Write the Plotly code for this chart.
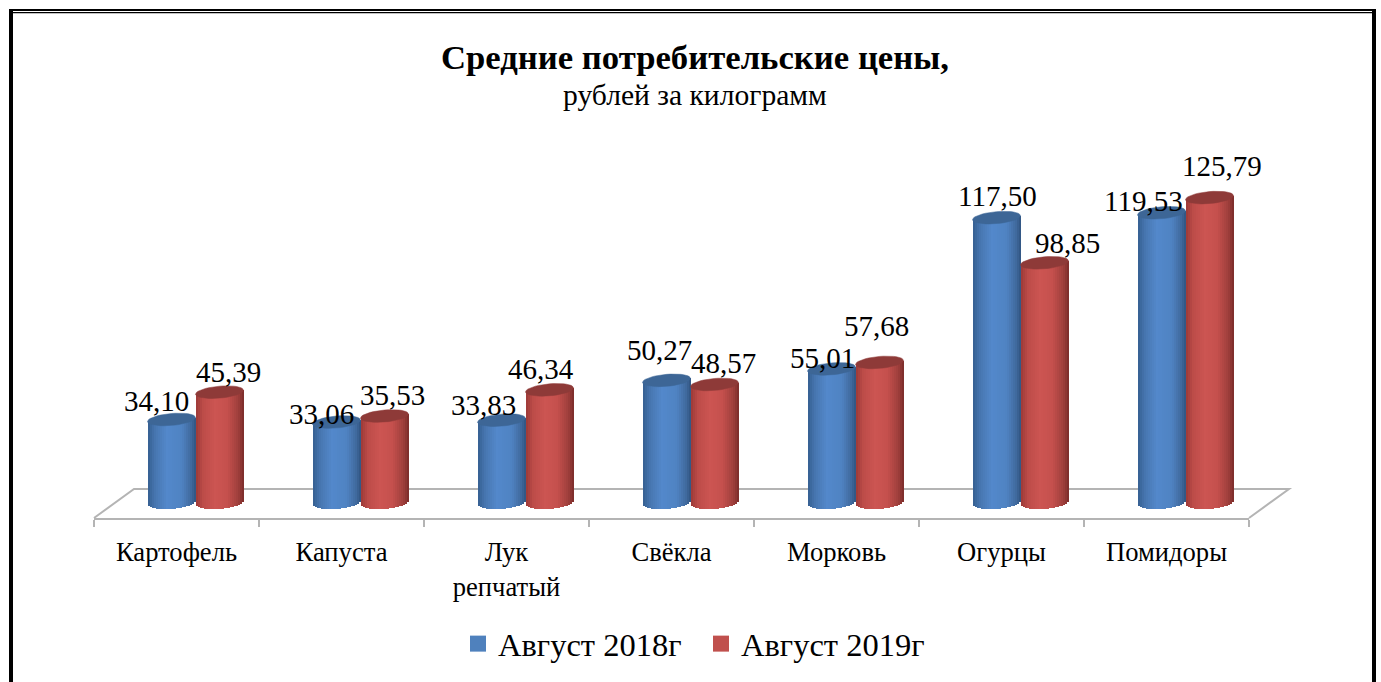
import math
import plotly.graph_objects as go

categories = ["Картофель", "Капуста", "Лук<br>репчатый", "Свёкла", "Морковь", "Огурцы", "Помидоры"]
series_2018 = [34.10, 33.06, 33.83, 50.27, 55.01, 117.50, 119.53]
series_2019 = [45.39, 35.53, 46.34, 48.57, 57.68, 98.85, 125.79]
series_names = ["Август 2018г", "Август 2019г"]

# label nudges in pixels, relative to each cylinder's top centre
nudge_x_2018 = [-15, -15, -18, -7, -9, 1, -18]
nudge_y_2018 = [-18.5, -8, -15, -30, -11, -22, -12]
nudge_x_2019 = [8.5, 7.5, -8.5, 8.5, -3.5, 22.5, 12.5]
nudge_y_2019 = [-20, -21, -21, -21.5, -36, -20, -31.6]

W, H = 1381, 682
AX_L, AX_R, AX_Y = 94, 1249, 518
CAT_PX = (AX_R - AX_L) / 7
Y0_PX = 502
PX_PER_UNIT = 2.42
FONT = "Liberation Serif"

px_x = lambda p: (p) / CAT_PX          # pixel length -> x units
px_y = lambda p: p / PX_PER_UNIT        # pixel length -> y units
pap_x = lambda p: (p - AX_L) / (AX_R - AX_L)
pap_y = lambda p: (AX_Y - p) / AX_Y

R = 24.0        # cylinder half width
B = 6.0         # top ellipse half height
B_BASE = 7.0    # bottom arc depth
TILT = 2.0      # ellipse tilt
N = 24
CENTERS = [-5.0, 43.0]

BLUE = [(-1, "#355f91"), (-.7, "#4776b0"), (-.2, "#5388cb"), (.4, "#4f83c2"), (.8, "#40699d"), (1, "#2f5480")]
RED = [(-1, "#9c3a37"), (-.7, "#bd4c49"), (-.2, "#cc5552"), (.3, "#c5504d"), (.75, "#a03f3c"), (1, "#7a2c2a")]
CAPS = ["#3d6696", "#8e3a38"]
SWATCH = ["#4f81bd", "#c0504d"]


def shade(stops, u):
    for (a, ca), (b, cb) in zip(stops, stops[1:]):
        if u <= b:
            t = (u - a) / (b - a)
            ch = [round(int(ca[i:i + 2], 16) * (1 - t) + int(cb[i:i + 2], 16) * t) for i in (1, 3, 5)]
            return "rgb(%d,%d,%d)" % tuple(ch)
    return stops[-1][1]


fig = go.Figure()
xs = list(range(len(categories)))
for s, (vals, stops) in enumerate(((series_2018, BLUE), (series_2019, RED))):
    strip = 2 * R / N
    for k in range(N):
        u = -1 + (k + 0.5) * 2 / N
        bottom = px_y(-B_BASE * math.sqrt(1 - u * u) + TILT * u)
        top = px_y(TILT * u)
        left = CENTERS[s] + u * R - strip / 2
        fig.add_trace(go.Bar(
            x=xs, y=[v + top - bottom for v in vals], base=[bottom] * len(vals),
            offset=px_x(left), width=px_x(strip + (0.8 if k < N - 1 else 0)),
            marker=dict(color=shade(stops, u), line=dict(width=0)),
            showlegend=False, hoverinfo="skip"))
    ex, ey = [], []
    for i, v in zip(xs, vals):
        for a in range(41):
            t = a / 40 * 2 * math.pi
            ex.append(i + px_x(CENTERS[s] + R * math.cos(t)))
            ey.append(v + px_y(B * math.sin(t) + TILT * math.cos(t)))
        ex.append(None)
        ey.append(None)
    fig.add_trace(go.Scatter(x=ex, y=ey, mode="lines", fill="toself", fillcolor=CAPS[s],
                             line=dict(width=0.5, color=CAPS[s]), showlegend=False,
                             hoverinfo="skip", cliponaxis=False))

for s in range(2):
    fig.add_trace(go.Scatter(x=[None], y=[None], mode="markers", name=series_names[s],
                             marker=dict(symbol="square", size=16, color=SWATCH[s])))

annotations = []
for s, (vals, nx, ny) in enumerate(((series_2018, nudge_x_2018, nudge_y_2018),
                                    (series_2019, nudge_x_2019, nudge_y_2019))):
    for i, v in zip(xs, vals):
        annotations.append(dict(
            x=i + px_x(CENTERS[s]), y=v, xref="x", yref="y",
            text=f"{v:.2f}".replace(".", ","), showarrow=False,
            xshift=nx[i], yshift=-ny[i], xanchor="center", yanchor="middle",
            font=dict(family=FONT, size=29, color="#000")))
annotations.append(dict(x=pap_x(695), y=pap_y(95), xref="paper", yref="paper",
                        text="рублей за килограмм", showarrow=False, xanchor="center",
                        yanchor="middle", font=dict(family=FONT, size=29.6, color="#000")))

GREY = "#b4b4b4"
floor_path = "M %f,%f L %f,%f L %f,%f L %f,%f" % (
    pap_x(AX_L), pap_y(AX_Y), pap_x(AX_L + 40), pap_y(AX_Y - 29),
    pap_x(AX_R + 40), pap_y(AX_Y - 29), pap_x(AX_R), pap_y(AX_Y))
shapes = [dict(type="path", path=floor_path, xref="paper", yref="paper",
               line=dict(color=GREY, width=2), layer="below")]
for x0, x1, y0, y1 in [(9, 13, 9, 682), (1372, 1376, 9, 682), (9, 1376, 9, 11), (9, 1376, 12, 13.3)]:
    shapes.append(dict(type="rect", xref="paper", yref="paper", x0=pap_x(x0), x1=pap_x(x1),
                       y0=pap_y(y0), y1=pap_y(y1), fillcolor="#000", line=dict(width=0), layer="above"))

fig.update_layout(
    width=W, height=H, autosize=False,
    margin=dict(l=AX_L, r=W - AX_R, t=0, b=H - AX_Y, pad=0, autoexpand=False),
    paper_bgcolor="#fff", plot_bgcolor="rgba(0,0,0,0)",
    barmode="overlay", bargap=0, hovermode=False,
    title=dict(text="<b>Средние потребительские цены,</b>", x=695 / W, xanchor="center",
               y=1 - 57 / H, yanchor="middle", xref="container", yref="container",
               font=dict(family=FONT, size=34.7, color="#000")),
    xaxis=dict(range=[-0.5, 6.5], tickmode="array", tickvals=xs, ticktext=categories,
               ticks="", showgrid=False, zeroline=False, showline=True, linecolor=GREY, linewidth=2,
               ticklabelstandoff=9,
               tickfont=dict(family=FONT, size=26.6, color="#000"),
               minor=dict(tickmode="array", tickvals=[i - 0.5 for i in range(8)], ticks="outside",
                          ticklen=7, tickwidth=2, tickcolor=GREY, showgrid=False)),
    yaxis=dict(range=[(Y0_PX - AX_Y) / PX_PER_UNIT, Y0_PX / PX_PER_UNIT], visible=False, fixedrange=True),
    legend=dict(orientation="h", x=pap_x(458), xanchor="left", y=pap_y(644), yanchor="middle",
                font=dict(family=FONT, size=32.5, color="#000"), bgcolor="rgba(0,0,0,0)",
                itemsizing="trace", itemwidth=30, traceorder="normal",
                entrywidth=198, entrywidthmode="pixels"),
    annotations=annotations, shapes=shapes,
)
fig.write_html("out.html", config={"displayModeBar": False},
               post_script="document.body.style.margin='0';document.documentElement.style.overflow='hidden';")
